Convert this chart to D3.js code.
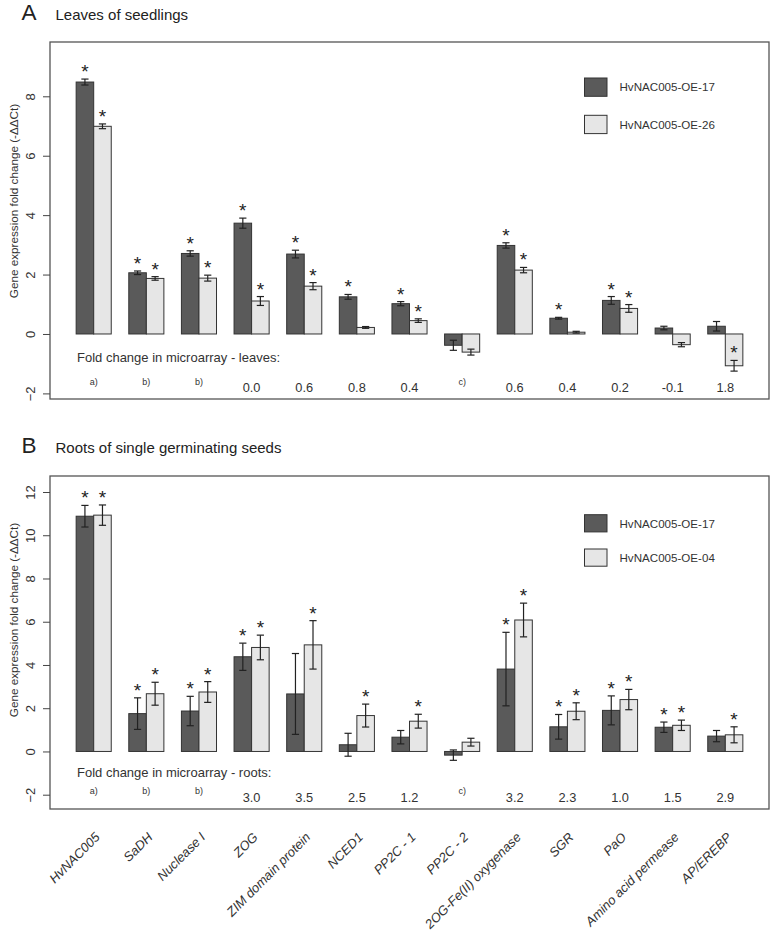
<!DOCTYPE html>
<html>
<head>
<meta charset="utf-8">
<script src="https://cdn.jsdelivr.net/npm/d3@7"></script>
<style>
  html, body { margin: 0; padding: 0; background: #fff; }
  svg { display: block; font-family: "Liberation Sans", Arial, sans-serif; }
</style>
</head>
<body>
<svg id="chart" width="771" height="931"></svg>
<script>
// ---------- DATA ----------
const genes = ["HvNAC005", "SaDH", "Nuclease I", "ZOG", "ZIM domain protein", "NCED1",
  "PP2C - 1", "PP2C - 2", "2OG-Fe(II) oxygenase", "SGR", "PaO", "Amino acid permease", "AP/EREBP"];

// Panel A: leaves of seedlings
const leavesSeries = ["HvNAC005-OE-17", "HvNAC005-OE-26"];
const leaves17    = [8.48, 2.06, 2.71, 3.73, 2.69, 1.25, 1.02, -0.38, 2.98, 0.53, 1.13, 0.20, 0.26];
const leaves17Err = [0.10, 0.06, 0.09, 0.17, 0.13, 0.08, 0.07, 0.17, 0.09, 0.03, 0.13, 0.06, 0.16];
const leaves26    = [6.99, 1.87, 1.88, 1.11, 1.61, 0.22, 0.45, -0.61, 2.15, 0.06, 0.86, -0.36, -1.07];
const leaves26Err = [0.08, 0.06, 0.10, 0.15, 0.12, 0.03, 0.06, 0.10, 0.09, 0.03, 0.13, 0.07, 0.18];
const leavesStar17 = [1, 1, 1, 1, 1, 1, 1, 0, 1, 1, 1, 0, 0];
const leavesStar26 = [1, 1, 1, 1, 1, 0, 1, 0, 1, 0, 1, 0, 1];
const leavesArray = ["a)", "b)", "b)", "0.0", "0.6", "0.8", "0.4", "c)", "0.6", "0.4", "0.2", "-0.1", "1.8"];
const leavesTicks = [-2, 0, 2, 4, 6, 8];

// Panel B: roots of single germinating seeds
const rootsSeries = ["HvNAC005-OE-17", "HvNAC005-OE-04"];
const roots17    = [10.88, 1.75, 1.87, 4.38, 2.66, 0.31, 0.66, -0.17, 3.81, 1.14, 1.90, 1.12, 0.71];
const roots17Err = [0.50, 0.73, 0.68, 0.63, 1.87, 0.53, 0.31, 0.24, 1.70, 0.57, 0.67, 0.24, 0.26];
const roots04    = [10.93, 2.67, 2.75, 4.81, 4.93, 1.66, 1.40, 0.43, 6.08, 1.86, 2.40, 1.21, 0.77];
const roots04Err = [0.47, 0.53, 0.48, 0.57, 1.12, 0.53, 0.32, 0.18, 0.78, 0.39, 0.47, 0.24, 0.37];
const rootsStar17 = [1, 1, 1, 1, 0, 0, 0, 0, 1, 1, 1, 1, 0];
const rootsStar04 = [1, 1, 1, 1, 1, 1, 1, 0, 1, 1, 1, 1, 1];
const rootsArray = ["a)", "b)", "b)", "3.0", "3.5", "2.5", "1.2", "c)", "3.2", "2.3", "1.0", "1.5", "2.9"];
const rootsTicks = [-2, 0, 2, 4, 6, 8, 10, 12];

// ---------- DRAW ----------
const svg = d3.select("#chart");
const DARK = "#5a5a5a", LIGHT = "#e6e6e6", EDGE = "#333", TXT = "#333";
const boxLeft = 50, boxRight = 769;

// barplot units: group i occupies bars [3i+1,3i+2] and [3i+2,3i+3]; group centre at 3i+2
const x = d3.scaleLinear().domain([2, 38]).range([93.7, 725.3]);

function panel(cfg) {
  const g = svg.append("g");
  const y = d3.scaleLinear().domain(cfg.yDomain).range(cfg.yRange);

  // title
  g.append("text").attr("x", 21.5).attr("y", cfg.titleY).attr("font-size", 22.5)
    .attr("fill", "#222").text(cfg.letter);
  g.append("text").attr("x", 55.5).attr("y", cfg.titleY).attr("font-size", 15)
    .attr("fill", "#222").text(cfg.title);

  // box
  g.append("rect").attr("x", boxLeft).attr("y", cfg.boxTop)
    .attr("width", boxRight - boxLeft).attr("height", cfg.boxBottom - cfg.boxTop)
    .attr("fill", "none").attr("stroke", "#555").attr("stroke-width", 1.3);

  // y axis
  const ax = g.append("g").attr("transform", `translate(${boxLeft - 7},0)`)
    .call(d3.axisLeft(y).tickValues(cfg.ticks).tickSize(0).tickFormat(d3.format("d")));
  ax.select(".domain").remove();
  ax.selectAll(".tick line").attr("x2", 7).attr("stroke", "#444");
  ax.selectAll(".tick text")
    .attr("x", null).attr("dy", null)
    .attr("text-anchor", "middle")
    .attr("transform", "translate(-8.5,0) rotate(-90)")
    .attr("font-size", 13).attr("fill", TXT)
    .attr("font-family", "Liberation Sans, Arial, sans-serif");

  g.append("text").attr("transform", `translate(17.5,${cfg.yLabelY}) rotate(-90)`)
    .attr("text-anchor", "middle").attr("font-size", 11.7).attr("fill", TXT)
    .text("Gene expression fold change (-\u0394\u0394Ct)");

  const series = [
    { vals: cfg.v1, err: cfg.e1, star: cfg.s1, off: 1, fill: DARK },
    { vals: cfg.v2, err: cfg.e2, star: cfg.s2, off: 2, fill: LIGHT }
  ];
  series.forEach(s => {
    const data = s.vals.map((v, i) => ({ v, e: s.err[i], st: s.star[i], u: 3 * i + s.off }));
    g.append("g").selectAll("rect").data(data).join("rect")
      .attr("x", d => x(d.u)).attr("width", d => x(d.u + 1) - x(d.u))
      .attr("y", d => y(Math.max(0, d.v))).attr("height", d => Math.abs(y(d.v) - y(0)))
      .attr("fill", s.fill).attr("stroke", EDGE).attr("stroke-width", 1);
    const eb = g.append("g").attr("stroke", "#222").attr("stroke-width", 1.2);
    eb.selectAll("line.v").data(data).join("line").attr("class", "v")
      .attr("x1", d => x(d.u + 0.5)).attr("x2", d => x(d.u + 0.5))
      .attr("y1", d => y(d.v - d.e)).attr("y2", d => y(d.v + d.e));
    eb.selectAll("line.t").data(data).join("line").attr("class", "t")
      .attr("x1", d => x(d.u + 0.5) - 3.6).attr("x2", d => x(d.u + 0.5) + 3.6)
      .attr("y1", d => y(d.v + d.e)).attr("y2", d => y(d.v + d.e));
    eb.selectAll("line.b").data(data).join("line").attr("class", "b")
      .attr("x1", d => x(d.u + 0.5) - 3.6).attr("x2", d => x(d.u + 0.5) + 3.6)
      .attr("y1", d => y(d.v - d.e)).attr("y2", d => y(d.v - d.e));
    g.append("g").selectAll("text").data(data.filter(d => d.st)).join("text")
      .attr("x", d => x(d.u + 0.5)).attr("y", d => y(d.v + d.e) - 1)
      .attr("text-anchor", "middle").attr("font-size", 19).attr("fill", "#222").text("*");
  });

  // microarray caption and values
  g.append("text").attr("x", 77).attr("y", cfg.capY).attr("font-size", 13).attr("fill", TXT)
    .text(cfg.caption);
  g.append("g").selectAll("text").data(cfg.arr).join("text")
    .attr("x", (d, i) => x(3 * i + 2))
    .attr("y", d => d.endsWith(")") ? cfg.numY - 7.5 : cfg.numY)
    .attr("font-size", d => d.endsWith(")") ? 9 : 12.8)
    .attr("text-anchor", "middle").attr("fill", TXT).text(d => d);

  // legend
  cfg.series.forEach((name, k) => {
    const ly = cfg.legY + k * cfg.legStep;
    g.append("rect").attr("x", 584.5).attr("y", ly).attr("width", 22.5).attr("height", cfg.legH)
      .attr("fill", k === 0 ? DARK : LIGHT).attr("stroke", EDGE).attr("stroke-width", 1);
    g.append("text").attr("x", 619.5).attr("y", ly + cfg.legH / 2 + 4.2)
      .attr("font-size", 11.6).attr("fill", TXT).text(name);
  });
  return { g, y };
}

panel({
  letter: "A", title: "Leaves of seedlings", titleY: 19.5,
  boxTop: 42, boxBottom: 399, yDomain: [-2, 8], yRange: [393.4, 96.3], ticks: leavesTicks,
  yLabelY: 201,
  v1: leaves17, e1: leaves17Err, s1: leavesStar17,
  v2: leaves26, e2: leaves26Err, s2: leavesStar26,
  caption: "Fold change in microarray - leaves:", capY: 361.5, numY: 392.3, arr: leavesArray,
  series: leavesSeries, legY: 78, legStep: 37.3, legH: 18.3
});

panel({
  letter: "B", title: "Roots of single germinating seeds", titleY: 453,
  boxTop: 476, boxBottom: 809, yDomain: [-2, 12], yRange: [794.7, 492], ticks: rootsTicks,
  yLabelY: 620,
  v1: roots17, e1: roots17Err, s1: rootsStar17,
  v2: roots04, e2: roots04Err, s2: rootsStar04,
  caption: "Fold change in microarray - roots:", capY: 777, numY: 801.7, arr: rootsArray,
  series: rootsSeries, legY: 514.7, legStep: 34.3, legH: 17.2
});

// gene labels (rotated 45°)
svg.append("g").selectAll("text").data(genes).join("text")
  .attr("transform", (d, i) => `translate(${x(3 * i + 2) + 7},838) rotate(-45)`)
  .attr("text-anchor", "end").attr("font-size", 13).attr("font-style", "italic")
  .attr("fill", TXT).text(d => d);
</script>
</body>
</html>
